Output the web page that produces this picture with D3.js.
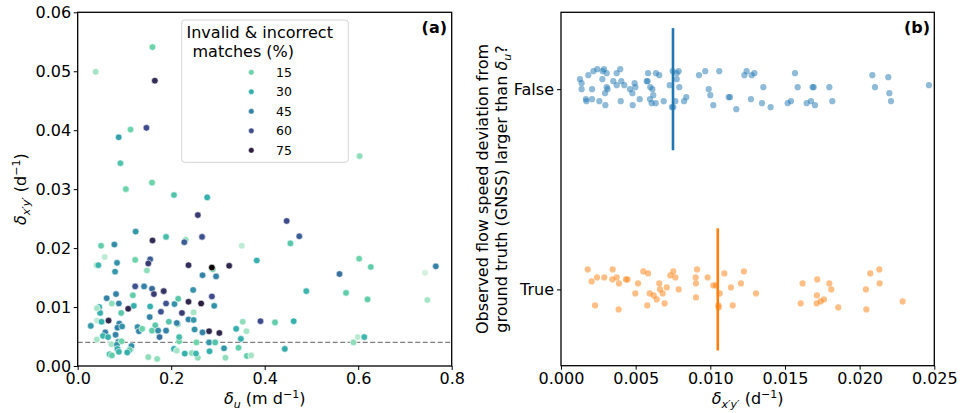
<!DOCTYPE html>
<html><head><meta charset="utf-8">
<script src="https://cdn.jsdelivr.net/npm/d3@7"></script>
<style>
body{margin:0;background:#fff;}
svg text{font-family:"DejaVu Sans",sans-serif;}
</style></head>
<body><svg id="c" width="960" height="413"></svg>
<script>
// ---------- Panel (a) data ----------
const deltaU = [0.0385,0.160,0.165,0.113,0.147,0.0877,0.0913,0.103,0.159,0.206,0.277,0.257,0.603,0.124,0.189,0.231,0.228,0.266,0.160,0.050,0.0784,0.0578,0.0406,0.0442,0.0841,0.0799,0.123,0.155,0.151,0.148,0.237,0.289,0.287,0.324,0.267,0.296,0.247,0.383,0.447,0.474,0.455,0.351,0.602,0.627,0.766,0.743,0.560,0.489,0.574,0.620,0.748,0.590,0.599,0.613,0.462,0.422,0.391,0.443,
0.123,0.142,0.159,0.163,0.184,0.082,0.062,0.118,0.088,0.073,0.120,0.108,0.155,0.189,0.207,0.215,0.237,0.264,0.287,0.292,0.046,0.048,0.041,0.093,0.066,0.041,0.051,0.028,0.089,0.085,0.095,0.154,0.178,0.223,0.248,0.195,0.214,0.212,0.237,0.248,0.128,0.166,0.159,0.172,0.189,0.131,0.175,0.138,0.059,0.081,0.054,0.065,0.072,0.087,0.084,0.085,0.088,0.068,0.073,0.113,0.115,0.111,0.106,0.151,0.170,0.206,0.212,0.217,0.217,0.229,0.244,0.257,0.254,0.253,0.282,0.281,0.294,0.313,0.316,0.281,0.303,0.267,0.250,0.339,0.344,0.349,0.353,0.361,0.362,0.371,0.041,0.094];
const deltaXY = [0.0499,0.0541,0.0484,0.0401,0.0404,0.0388,0.0344,0.0300,0.0311,0.0290,0.0286,0.0256,0.0356,0.0228,0.0219,0.0214,0.0210,0.0219,0.0213,0.0204,0.0206,0.0185,0.0171,0.0171,0.0175,0.0160,0.0180,0.0181,0.0174,0.0162,0.0171,0.0164,0.0167,0.0170,0.0154,0.0152,0.0129,0.0179,0.0246,0.0220,0.0208,0.0204,0.0182,0.0168,0.0169,0.0158,0.0156,0.0127,0.0124,0.0113,0.0112,0.0040,0.0049,0.0049,0.0076,0.0074,0.0076,0.0029,
0.0135,0.0135,0.0131,0.0122,0.0127,0.0122,0.0115,0.0120,0.0106,0.0106,0.0102,0.0097,0.0101,0.0106,0.0105,0.0114,0.0109,0.0106,0.0118,0.0102,0.0100,0.0090,0.0098,0.0090,0.0077,0.0077,0.0075,0.0068,0.0072,0.0065,0.0067,0.0083,0.0092,0.0090,0.0091,0.0075,0.0071,0.0073,0.0079,0.0078,0.0066,0.0069,0.0060,0.0060,0.0060,0.0059,0.0049,0.0063,0.0057,0.0053,0.0051,0.0049,0.0037,0.0041,0.0036,0.0029,0.0024,0.0020,0.0018,0.0029,0.0034,0.0027,0.0023,0.0015,0.0012,0.0029,0.0026,0.0042,0.0049,0.0021,0.0022,0.0014,0.0040,0.0021,0.0025,0.0040,0.0040,0.0030,0.0014,0.0059,0.0056,0.0057,0.0062,0.0063,0.0031,0.0046,0.0075,0.0059,0.0017,0.0018,0.0045,0.0042];
const invalidPct = [10,15,70,15,60,35,22,15,15,22,30,65,12,38,25,12,55,58,70,18,42,8,10,28,40,38,15,55,65,12,70,15,85,72,45,45,40,30,60,55,20,8,15,18,45,6,50,28,18,18,10,12,8,28,30,18,60,32,
58,45,52,65,68,45,45,18,45,12,30,72,30,58,40,20,72,75,60,40,30,30,10,20,72,8,30,38,45,45,40,45,58,65,10,22,15,45,45,38,40,20,18,42,45,45,50,15,45,45,28,30,10,38,40,30,28,22,18,30,40,18,30,12,12,30,10,15,25,30,12,12,15,28,30,38,22,38,12,72,72,45,40,30,18,30,12,10,18,10,10,15];
const legendPct = [15,30,45,60,75];
const hueStops = [5,15,30,45,60,75,85];
const hueColors = ["#dff4e4","#6cd3aa","#36b0ac","#3483a6","#3f4b8d","#2c1e3d","#0b0405"];
const thresholdXY = 0.004;
const xTicksA = [0,0.2,0.4,0.6,0.8];
const yTicksA = [0,0.01,0.02,0.03,0.04,0.05,0.06];

// ---------- Panel (b) data ----------
const categories = ["False","True"];
const falseVals = [0.00183,0.00217,0.00243,0.00279,0.00288,0.00306,0.00373,0.00397,0.00583,0.00636,0.00658,0.00748,0.00775,0.00788,0.00924,0.00966,0.01060,0.01228,0.01243,0.01277,0.01295,0.01567,0.02085,0.02192,
0.00127,0.00138,0.00277,0.00350,0.00373,0.00404,0.00424,0.00462,0.00493,0.00498,0.00478,0.00574,0.00580,0.00598,0.00612,0.00728,0.00775,0.00792,0.00989,0.01355,0.01585,0.01685,0.01692,0.01797,0.02103,0.02464,0.00138,0.00208,0.00306,0.00295,0.00312,0.00618,0.01000,0.01123,0.01132,0.02199,
0.00167,0.00170,0.00208,0.00257,0.00297,0.00400,0.00480,0.00527,0.00596,0.00607,0.00634,0.00688,0.00743,0.00752,0.00766,0.00824,0.00839,0.01020,0.01174,0.01272,0.01346,0.01404,0.01518,0.01540,0.01645,0.01674,0.01701,0.01817,0.02210];
const falseJitter = [-0.07,-0.09,-0.10,-0.09,-0.10,-0.08,-0.08,-0.10,-0.08,-0.08,-0.07,-0.09,-0.08,-0.09,-0.07,-0.09,-0.09,-0.07,-0.09,-0.07,-0.08,-0.08,-0.07,-0.06,
-0.05,-0.03,-0.05,-0.04,-0.02,-0.04,-0.02,0.00,-0.03,-0.01,0.02,-0.04,-0.04,-0.01,0.00,-0.02,-0.05,-0.01,0.00,-0.01,-0.01,-0.01,-0.01,-0.01,-0.01,-0.02,0.00,0.00,-0.01,0.02,0.00,0.03,0.03,0.04,0.04,0.02,
0.05,0.06,0.05,0.06,0.08,0.06,0.08,0.05,0.05,0.07,0.07,0.06,0.09,0.09,0.06,0.06,0.04,0.08,0.10,0.05,0.07,0.09,0.07,0.06,0.07,0.06,0.08,0.06,0.06];
const trueVals = [0.00179,0.00346,0.00551,0.00583,0.00752,0.00732,0.00766,0.00911,0.00902,0.00982,0.01094,0.01225,0.02071,0.02132,0.00241,0.00205,0.00290,0.00344,0.00373,0.00388,0.00435,0.00446,
0.00516,0.00658,0.00708,0.00788,0.00904,0.01020,0.01038,0.01138,0.01205,0.01618,0.01716,0.01797,0.01810,0.02042,0.02134,0.00663,0.00681,0.01063,
0.00498,0.00594,0.00621,0.00641,0.00694,0.00578,0.00228,0.00386,0.00904,0.01054,0.01056,0.01150,0.01306,0.01605,0.01714,0.01712,0.01739,0.01761,0.01857,0.02045,0.02288];
const trueJitter = [-0.10,-0.10,-0.09,-0.08,-0.09,-0.07,-0.06,-0.10,-0.06,-0.06,-0.08,-0.09,-0.08,-0.10,-0.06,-0.04,-0.06,-0.05,-0.06,-0.03,-0.05,-0.05,
-0.03,-0.03,-0.01,0.00,-0.03,-0.02,-0.02,-0.01,-0.03,-0.03,-0.05,-0.03,0.00,0.00,-0.03,0.00,0.02,0.02,
0.02,0.02,0.03,0.05,0.07,0.08,0.08,0.10,0.04,0.08,0.09,0.08,0.02,0.07,0.03,0.07,0.06,0.05,0.09,0.10,0.06];
const meanVals = [0.0075,0.0105];
const catColors = ["#1f77b4","#ff7f0e"];
const xTicksB = [0,0.005,0.01,0.015,0.02,0.025];

// ---------- drawing ----------
const svg = d3.select("#c");
const FS = 16;

function frame(g, x0, x1, y0, y1){
  g.append("rect").attr("x",x0).attr("y",y0).attr("width",x1-x0).attr("height",y1-y0)
   .attr("fill","none").attr("stroke","#000").attr("stroke-width",1.3);
}
function styleAxis(sel){
  sel.select(".domain").remove();
  sel.selectAll(".tick line").attr("stroke","#000").attr("stroke-width",1);
  sel.selectAll(".tick text").attr("font-size",FS).attr("fill","#000").attr("font-family","DejaVu Sans");
}

// Panel (a)
const ax = {l:77.7, r:451.7, t:12.3, b:366};
const xA = d3.scaleLinear().domain([0,0.8]).range([ax.l,ax.r]);
const yA = d3.scaleLinear().domain([0,0.06]).range([ax.b,ax.t]);
const hue = d3.scaleLinear().domain(hueStops).range(hueColors).interpolate(d3.interpolateRgb).clamp(true);

const gA = svg.append("g");
gA.append("line").attr("x1",xA(0)).attr("x2",xA(0.8)).attr("y1",yA(thresholdXY)).attr("y2",yA(thresholdXY))
  .attr("stroke","#7f7f7f").attr("stroke-width",1.3).attr("stroke-dasharray","5,2.5");
const ptsA = deltaU.map((u,i)=>({u, v:deltaXY[i], h:invalidPct[i]}));
gA.selectAll("circle.a").data(ptsA).join("circle").attr("class","a")
  .attr("cx",d=>xA(d.u)).attr("cy",d=>yA(d.v)).attr("r",3.3)
  .attr("fill",d=>hue(d.h)).attr("stroke","#fff").attr("stroke-width",0.6);

gA.append("g").attr("transform",`translate(0,${ax.b})`)
  .call(d3.axisBottom(xA).tickValues(xTicksA).tickFormat(d3.format(".1f")).tickSize(4).tickPadding(2.5)).call(styleAxis);
gA.append("g").attr("transform",`translate(${ax.l},0)`)
  .call(d3.axisLeft(yA).tickValues(yTicksA).tickFormat(d3.format(".2f")).tickSize(4).tickPadding(2.5)).call(styleAxis);
frame(gA, ax.l, ax.r, ax.t, ax.b);

// legend
const lg = gA.append("g");
lg.append("rect").attr("x",181.7).attr("y",20).attr("width",166.6).attr("height",142.3).attr("rx",3)
  .attr("fill","#fff").attr("fill-opacity",0.8).attr("stroke","#d4d4d4").attr("stroke-width",1);
lg.append("text").attr("x",186.5).attr("y",38).attr("font-size",FS).text("Invalid & incorrect");
lg.append("text").attr("x",192.5).attr("y",56.5).attr("font-size",FS).text("matches (%)");
legendPct.forEach((p,i)=>{
  const yy = 72.3 + i*19.5;
  lg.append("circle").attr("cx",251.3).attr("cy",yy).attr("r",2.8).attr("fill",hue(p)).attr("stroke","#fff").attr("stroke-width",0.5);
  lg.append("text").attr("x",276).attr("y",yy+4.5).attr("font-size",12.5).text(p);
});
gA.append("text").attr("x",447).attr("y",33).attr("text-anchor","end").attr("font-size",FS).attr("font-weight","bold").text("(a)");

// axis labels (a)
function deltaLabel(sel, sub){
  sel.append("tspan").attr("font-style","italic").text("δ");
  sel.append("tspan").attr("font-style","italic").attr("font-size",11).attr("baseline-shift","-3.5").text(sub);
}
const xlA = gA.append("text").attr("x",(ax.l+ax.r)/2).attr("y",404).attr("text-anchor","middle").attr("font-size",FS);
deltaLabel(xlA,"u");
xlA.append("tspan").text(" (m d");
xlA.append("tspan").attr("font-size",11).attr("baseline-shift","6").text("−1");
xlA.append("tspan").text(")");

const ylA = gA.append("text").attr("transform",`translate(26,${(ax.t+ax.b)/2}) rotate(-90)`).attr("text-anchor","middle").attr("font-size",FS);
deltaLabel(ylA,"x′y′");
ylA.append("tspan").text(" (d");
ylA.append("tspan").attr("font-size",11).attr("baseline-shift","6").text("−1");
ylA.append("tspan").text(")");

// Panel (b)
const bx = {l:561, r:934.3, t:12.3, b:365.7};
const xB = d3.scaleLinear().domain([0,0.025]).range([bx.l,bx.r]);
const yB = d3.scaleLinear().domain([-0.384,1.381]).range([bx.t,bx.b]);
const gB = svg.append("g");
const ptsB = [];
falseVals.forEach((v,i)=>ptsB.push({v, c:0, j:falseJitter[i]}));
trueVals.forEach((v,i)=>ptsB.push({v, c:1, j:trueJitter[i]}));
gB.selectAll("circle.b").data(ptsB).join("circle").attr("class","b")
  .attr("cx",d=>xB(d.v)).attr("cy",d=>yB(d.c+d.j)).attr("r",3.1)
  .attr("fill",d=>catColors[d.c]).attr("fill-opacity",0.5);
meanVals.forEach((m,i)=>{
  gB.append("line").attr("x1",xB(m)).attr("x2",xB(m)).attr("y1",yB(i-0.305)).attr("y2",yB(i+0.305))
    .attr("stroke",catColors[i]).attr("stroke-width",2.6);
});
gB.append("g").attr("transform",`translate(0,${bx.b})`)
  .call(d3.axisBottom(xB).tickValues(xTicksB).tickFormat(d3.format(".3f")).tickSize(4).tickPadding(2.5)).call(styleAxis);
gB.append("g").attr("transform",`translate(${bx.l},0)`)
  .call(d3.axisLeft(yB).tickValues([0,1]).tickFormat((d,i)=>categories[i]).tickSize(4).tickPadding(3)).call(styleAxis);
frame(gB, bx.l, bx.r, bx.t, bx.b);
gB.append("text").attr("x",930).attr("y",33).attr("text-anchor","end").attr("font-size",FS).attr("font-weight","bold").text("(b)");

const xlB = gB.append("text").attr("x",(bx.l+bx.r)/2).attr("y",404).attr("text-anchor","middle").attr("font-size",FS);
deltaLabel(xlB,"x′y′");
xlB.append("tspan").text(" (d");
xlB.append("tspan").attr("font-size",11).attr("baseline-shift","6").text("−1");
xlB.append("tspan").text(")");

const cy = (bx.t+bx.b)/2;
gB.append("text").attr("transform",`translate(488,${cy}) rotate(-90)`).attr("text-anchor","middle").attr("font-size",FS)
  .text("Observed flow speed deviation from");
const ylB2 = gB.append("text").attr("transform",`translate(507,${cy}) rotate(-90)`).attr("text-anchor","middle").attr("font-size",FS);
ylB2.append("tspan").text("ground truth (GNSS) larger than ");
deltaLabel(ylB2,"u");
ylB2.append("tspan").text("?");
</script></body></html>
